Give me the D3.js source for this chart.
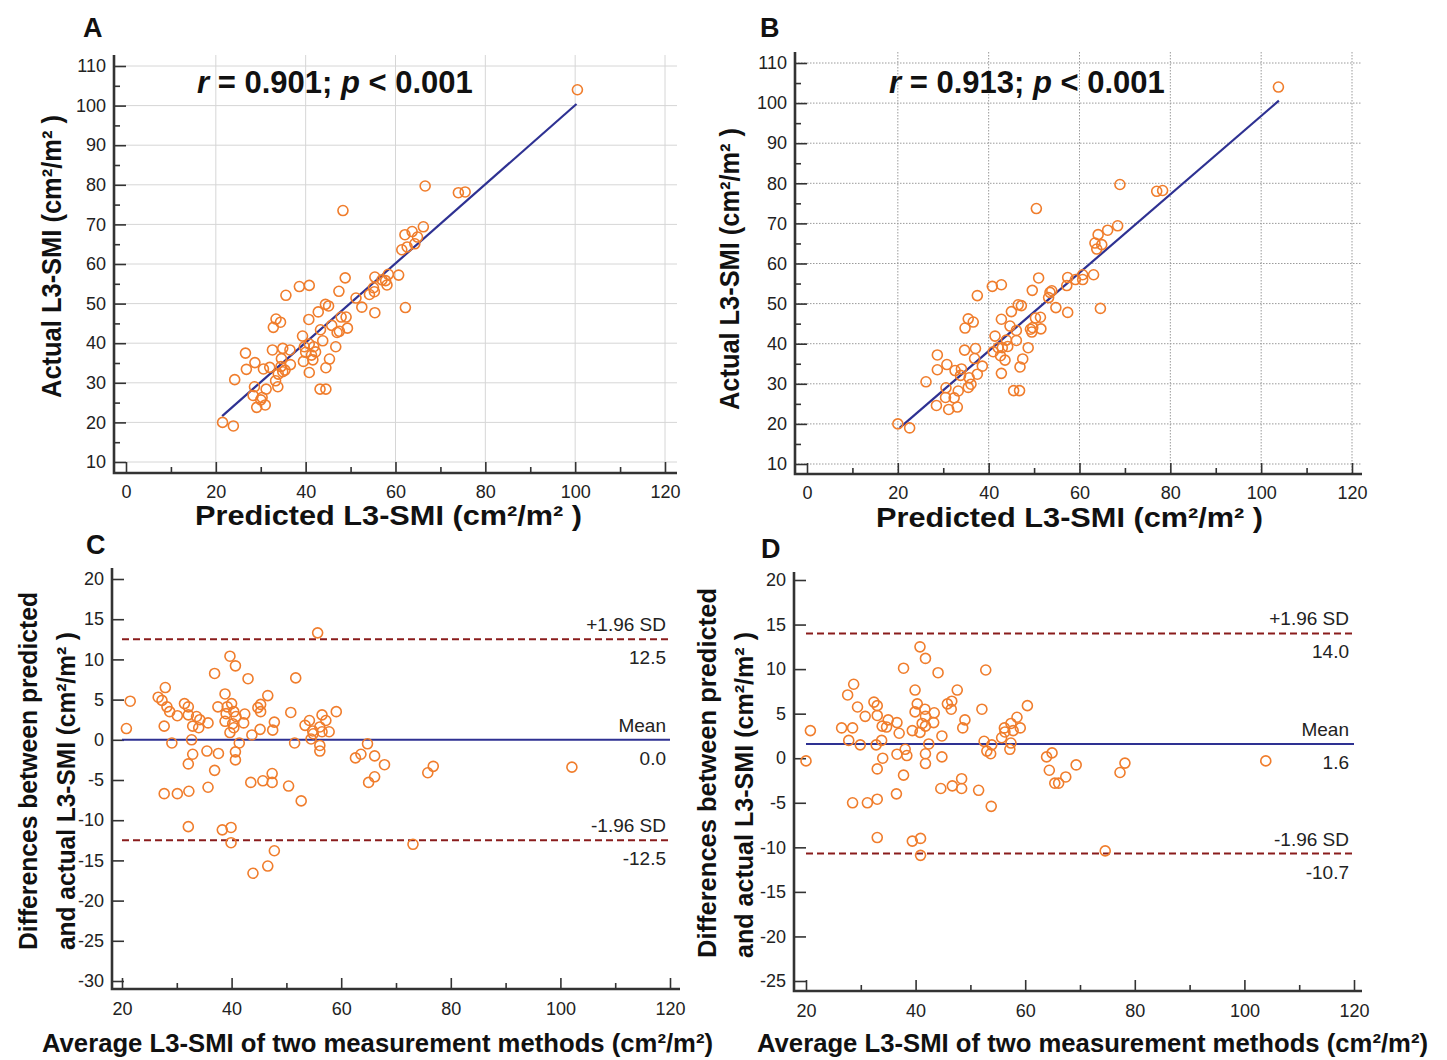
<!DOCTYPE html>
<html><head><meta charset="utf-8">
<script src="https://cdn.jsdelivr.net/npm/d3@7"></script>
<style>
body{margin:0;background:#fff}
svg{display:block}
text{font-family:"Liberation Sans",Arial,Helvetica,sans-serif}
</style>
</head><body>
<svg id="chart" width="1447" height="1060"></svg>
<script>
// ---------------- data ----------------
const xTicksScatter = [0,20,40,60,80,100,120];
const xMinorScatter = [10,30,50,70,90,110];
const yTicksScatter = [10,20,30,40,50,60,70,80,90,100,110];
const yMinorScatter = [15,25,35,45,55,65,75,85,95,105];
const xTicksBA = [20,40,60,80,100,120];
const xMinorBA = [30,50,70,90,110];
const yTicksC = [20,15,10,5,0,-5,-10,-15,-20,-25,-30];
const yTicksD = [20,15,10,5,0,-5,-10,-15,-20,-25];

const predA = [21.5,23.9,24.2,26.6,26.8,28.7,28.6,28.3,29.1,30.3,31.0,31.2,30.6,32.0,32.6,32.8,33.4,34.4,35.6,34.9,34.6,36.5,36.6,35.4,33.9,33.3,33.8,34.9,38.6,40.8,39.3,40.0,40.8,39.5,40.8,41.3,41.8,42.2,41.6,40.7,42.8,43.2,44.5,43.8,43.3,44.5,45.3,46.7,44.4,45.1,45.8,47.0,47.5,47.4,47.9,49.0,49.3,48.8,48.3,51.2,52.5,55.4,54.2,55.1,55.4,57.0,58.1,58.4,55.3,57.8,60.7,62.2,61.4,62.1,62.6,63.7,64.9,64.3,66.2,66.6,74.0,75.5,100.5,30.0,34.5,39.7];
const actualA = [20.0,19.1,30.8,37.5,33.4,35.1,29.0,26.8,23.8,26.3,24.4,28.4,33.5,33.9,38.3,44.0,46.1,45.3,52.1,38.7,36.1,38.3,34.6,33.2,32.2,30.5,29.0,32.8,54.3,54.6,41.8,37.7,39.8,35.4,32.6,37.0,39.1,37.8,35.8,46.0,47.9,28.4,28.4,40.6,43.4,33.8,36.0,39.1,49.8,49.4,44.5,42.7,43.0,53.1,46.6,46.6,43.8,56.5,73.5,51.4,49.1,47.7,52.3,54.0,56.7,56.0,54.7,57.4,53.0,55.8,57.2,49.0,63.6,67.4,64.3,68.2,66.8,65.1,69.4,79.7,78.0,78.2,104.0,25.7,34.1,39.1];
const fitAx = [21.4,100.3];
const fitAy = [21.6,100.4];

const predB = [20.0,22.6,26.2,28.7,28.7,30.8,30.6,30.5,28.5,31.2,32.4,33.1,33.3,32.6,34.0,34.7,34.8,35.5,36.6,37.5,37.1,36.9,38.6,37.5,35.7,35.5,36.1,33.8,40.8,42.8,41.4,42.1,41.0,42.6,43.0,44.2,43.6,42.8,43.9,42.8,45.0,44.7,46.1,45.5,46.8,47.5,46.9,48.7,46.5,47.2,46.1,49.2,49.7,49.5,50.3,51.4,51.5,49.6,51.0,50.5,53.2,53.5,53.9,54.8,57.4,57.4,57.2,59.1,60.7,60.7,63.1,64.6,63.4,63.8,64.1,64.9,66.2,68.4,68.9,77.0,78.3,103.8];
const actualB = [20.0,19.0,30.5,37.2,33.5,34.8,29.0,26.6,24.6,23.6,26.5,24.2,28.2,33.3,33.7,38.4,43.9,46.2,45.4,52.0,38.8,36.3,34.4,32.4,31.5,29.1,29.9,32.1,54.3,54.7,41.9,39.0,38.0,37.0,39.0,39.3,35.9,32.6,40.9,46.1,48.0,44.4,40.8,28.3,28.3,36.2,34.2,39.0,49.7,49.5,43.3,43.6,44.0,42.9,46.4,46.6,43.7,53.3,56.4,73.7,51.5,52.8,53.2,49.0,47.8,56.5,54.5,56.0,57.2,56.0,57.2,48.8,65.1,63.6,67.2,64.7,68.3,69.4,79.7,78.0,78.2,104.0];
const fitBx = [20.4,103.9];
const fitBy = [19.0,100.6];

const avgC = [20.8,21.5,26.6,27.3,27.9,27.7,28.2,28.7,29.1,27.7,30.1,30.1,31.4,32.1,32.1,32.9,33.6,34.2,34.0,32.7,32.9,32.1,32.2,32.1,35.7,35.5,36.9,35.7,36.9,37.5,38.8,39.2,39.0,38.8,40.0,40.4,40.8,40.2,39.7,40.4,37.6,39.7,40.7,40.7,40.7,41.4,42.2,42.4,43.0,43.7,45.2,45.3,45.3,44.8,46.6,47.8,47.5,38.3,39.9,39.9,43.5,45.7,47.4,47.4,47.8,46.6,43.9,50.4,50.8,51.7,51.5,52.7,53.4,54.2,54.8,54.5,54.9,56.1,56.5,57.2,56.5,57.8,56.1,56.1,59.1,55.7,64.8,63.6,62.6,66.1,67.9,66.1,65.0,75.8,76.8,73.1,102.1];
const diffC = [1.4,4.8,5.3,4.9,6.5,1.7,4.1,3.5,-0.4,-6.7,-6.7,3.0,4.5,4.1,3.1,1.7,2.9,2.5,1.5,0.0,-1.8,-3.0,-6.4,-10.8,2.1,-1.4,-3.8,-5.9,8.25,4.1,5.7,4.1,3.25,2.3,4.5,3.5,2.9,2.0,0.9,1.5,-1.7,10.4,9.2,-1.5,-2.5,-0.4,2.1,3.2,7.6,0.6,1.3,3.5,4.4,4.0,5.5,2.2,1.2,-11.2,-10.9,-12.8,-5.3,-5.1,-4.2,-5.3,-13.8,-15.7,-16.6,-5.75,3.4,7.7,-0.4,-7.6,1.8,2.4,1.1,0.1,0.75,1.6,3.1,2.4,1.0,1.0,-0.7,-1.4,3.5,13.3,-0.5,-1.8,-2.25,-2.0,-3.1,-4.6,-5.3,-4.1,-3.3,-13.0,-3.4];
const limitsC = [12.5, 0.0, -12.5];

const avgD = [20.0,20.8,26.5,28.5,27.6,28.7,29.4,27.8,29.9,30.8,28.5,31.2,32.4,33.0,33.0,33.9,35.0,34.7,33.8,32.8,34.0,33.0,33.0,33.0,36.6,37.0,36.6,37.8,39.9,40.3,39.9,39.4,40.8,41.2,41.7,41.8,41.8,40.8,41.8,43.4,43.3,42.4,41.8,41.8,38.1,38.4,37.8,36.5,44.1,44.8,44.8,44.6,39.4,40.9,40.9,45.8,46.6,46.5,47.6,49.0,48.6,46.7,48.4,48.4,51.5,52.8,52.1,52.5,53.0,53.7,53.9,53.8,55.7,56.2,56.3,57.4,57.8,58.5,59.1,57.4,57.2,60.4,63.9,64.9,64.4,65.4,66.1,67.4,69.3,77.3,78.2,74.6,103.9];
const diffD = [-0.3,3.1,3.4,3.4,7.1,8.3,5.75,2.0,1.5,4.7,-5.0,-5.0,6.3,5.9,4.8,3.6,4.3,3.5,2.0,1.5,0.0,-1.2,-4.6,-8.9,4.0,2.8,0.45,10.1,7.65,6.1,5.2,3.1,2.9,3.9,5.5,4.7,3.6,12.5,11.2,5.1,4.0,1.6,0.5,-0.6,1.0,0.3,-1.9,-4.0,9.6,2.5,0.15,-3.4,-9.3,-9.0,-10.9,6.1,6.4,5.5,7.65,4.3,3.4,-3.1,-2.3,-3.4,-3.6,9.9,5.5,1.9,0.8,0.5,1.5,-5.4,2.3,3.4,2.95,3.9,3.1,4.6,3.4,1.7,1.0,5.9,0.15,0.6,-1.35,-2.8,-2.8,-2.1,-0.75,-1.6,-0.55,-10.4,-0.3];
const limitsD = [14.0, 1.6, -10.7];
const limitNames = ["+1.96 SD", "Mean", "-1.96 SD"];
const limitValueLabels = { C: ["12.5","0.0","-12.5"], D: ["14.0","1.6","-10.7"] };
const rText = { A: "0.901", B: "0.913" };

// ---------------- styles ----------------
const ORANGE = "#f07d2c", BLUE = "#2e3192", DARKRED = "#8a1c1c", AXIS = "#333", LABEL = "#222";
const svg = d3.select("#chart");
const fmt = d => String(d);

function axisLines(g, L) {
  g.append("path").attr("d", `M${L.axisX},${L.top}V${L.axisY}H${L.right}`)
    .attr("fill","none").attr("stroke",AXIS).attr("stroke-width",2.6);
}
function styleAxis(sel) {
  sel.select(".domain").remove();
  sel.selectAll(".tick line").attr("stroke",AXIS).attr("stroke-width",1.6);
  sel.selectAll(".tick text").attr("fill",LABEL).style("font-size","18px")
     .style("font-family",'"Liberation Sans",Arial,sans-serif');
}
function drawAxes(g, x, y, L, yMajor, yMinor, xMajor, xMinor, xPad) {
  const ya = g.append("g").attr("transform",`translate(${L.axisX},0)`)
    .call(d3.axisLeft(y).tickValues(yMajor).tickSize(-12).tickPadding(8).tickFormat(fmt));
  styleAxis(ya);
  if (yMinor) {
    const ym = g.append("g").attr("transform",`translate(${L.axisX},0)`)
      .call(d3.axisLeft(y).tickValues(yMinor).tickSize(-6).tickFormat(""));
    styleAxis(ym);
  }
  const xa = g.append("g").attr("transform",`translate(0,${L.axisY})`)
    .call(d3.axisBottom(x).tickValues(xMajor).tickSize(-11).tickPadding(xPad).tickFormat(fmt));
  styleAxis(xa);
  const xm = g.append("g").attr("transform",`translate(0,${L.axisY})`)
    .call(d3.axisBottom(x).tickValues(xMinor).tickSize(-6).tickFormat(""));
  styleAxis(xm);
}

function title(attrs, str, fs, len) {
  const t = svg.append("text").text(str).style("font-size",fs+"px").style("font-weight","bold").attr("fill","#111");
  Object.entries(attrs).forEach(([k,v]) => t.attr(k,v));
  if (len) t.attr("textLength",len).attr("lengthAdjust","spacingAndGlyphs");
  return t;
}

function panelLetter(txt, x, y) {
  svg.append("text").attr("x",x).attr("y",y).text(txt)
    .style("font-size","27px").style("font-weight","bold").attr("fill","#111");
}

// ---------------- scatter panels ----------------
function scatter(L, px, py, fx, fy, rt, grid) {
  const g = svg.append("g");
  const x = d3.scaleLinear().domain([0,120]).range(L.xr);
  const y = d3.scaleLinear().domain([10,110]).range(L.yr);
  const gg = g.append("g").attr("stroke", grid.color).attr("stroke-width",1)
    .attr("stroke-dasharray", grid.dash);
  gg.selectAll(".gx").data(xTicksScatter.filter(d=>d>0)).join("line")
    .attr("x1",d=>x(d)).attr("x2",d=>x(d)).attr("y1",L.top).attr("y2",L.axisY);
  gg.selectAll(".gy").data(yTicksScatter).join("line")
    .attr("x1",L.axisX).attr("x2",L.right).attr("y1",d=>y(d)).attr("y2",d=>y(d));
  axisLines(g, L);
  drawAxes(g, x, y, L, yTicksScatter, yMinorScatter, xTicksScatter, xMinorScatter, 12);
  g.append("line").attr("x1",x(fx[0])).attr("y1",y(fy[0])).attr("x2",x(fx[1])).attr("y2",y(fy[1]))
    .attr("stroke",BLUE).attr("stroke-width",2.2);
  g.selectAll("circle").data(px.map((v,i)=>[v,py[i]])).join("circle")
    .attr("cx",d=>x(d[0])).attr("cy",d=>y(d[1])).attr("r",5)
    .attr("fill","none").attr("stroke",ORANGE).attr("stroke-width",1.6);
  const st = g.append("text").attr("x",L.statX).attr("y",L.statY)
    .style("font-size","31px").style("font-weight","bold").attr("fill","#111");
  st.append("tspan").text("r").style("font-style","italic");
  st.append("tspan").text(" = " + rt + "; ");
  st.append("tspan").text("p").style("font-style","italic");
  st.append("tspan").text(" < 0.001");
}

const LA = {xr:[126,665], yr:[462,66], axisX:114, axisY:473, top:55, right:677, statX:197, statY:93};
const LB = {xr:[807,1352], yr:[464,63], axisX:795, axisY:474, top:52, right:1362, statX:889, statY:93};
scatter(LA, predA, actualA, fitAx, fitAy, rText.A, {color:"#d6d6d6", dash:null});
scatter(LB, predB, actualB, fitBx, fitBy, rText.B, {color:"#9a9a9a", dash:"1.5,1.5"});

panelLetter("A", 83, 37);
panelLetter("B", 760, 37);
title({x:195, y:525}, "Predicted L3-SMI (cm²/m² )", 28, 387);
title({x:876, y:527}, "Predicted L3-SMI (cm²/m² )", 28, 387);
title({transform:"translate(61,398) rotate(-90)"}, "Actual L3-SMI (cm²/m² )", 27, 283);
title({transform:"translate(739,410) rotate(-90)"}, "Actual L3-SMI (cm²/m² )", 27, 282);

// ---------------- Bland-Altman panels ----------------
function bland(L, ax, dy, yDomain, yTicks, limits, vlabels) {
  const g = svg.append("g");
  const x = d3.scaleLinear().domain([20,120]).range(L.xr);
  const y = d3.scaleLinear().domain(yDomain).range(L.yr);
  axisLines(g, L);
  drawAxes(g, x, y, L, yTicks, null, xTicksBA, xMinorBA, 13);
  limits.forEach((v,i) => {
    g.append("line").attr("x1",x(20)).attr("x2",x(120)).attr("y1",y(v)).attr("y2",y(v))
      .attr("stroke", i===1 ? BLUE : DARKRED).attr("stroke-width", 2)
      .attr("stroke-dasharray", i===1 ? null : "7,4");
    g.append("text").attr("x",L.labX).attr("y",y(v)-8).attr("text-anchor","end")
      .text(limitNames[i]).style("font-size","19px").attr("fill",LABEL);
    g.append("text").attr("x",L.labX).attr("y",y(v)+25).attr("text-anchor","end")
      .text(vlabels[i]).style("font-size","19px").attr("fill",LABEL);
  });
  g.selectAll("circle").data(ax.map((v,i)=>[v,dy[i]])).join("circle")
    .attr("cx",d=>x(d[0])).attr("cy",d=>y(d[1])).attr("r",5)
    .attr("fill","none").attr("stroke",ORANGE).attr("stroke-width",1.6);
}

const LC = {xr:[122,670], yr:[579,981], axisX:112, axisY:989, top:568, right:680, labX:666};
const LD = {xr:[806,1354], yr:[580,981], axisX:794, axisY:991, top:572, right:1362, labX:1349};
bland(LC, avgC, diffC, [20,-30], yTicksC, limitsC, limitValueLabels.C);
bland(LD, avgD, diffD, [20,-25], yTicksD, limitsD, limitValueLabels.D);

panelLetter("C", 86, 554);
panelLetter("D", 761, 558);

function diffTitle(x1, x2, y0, len1, len2) {
  title({transform:`translate(${x1},${y0}) rotate(-90)`}, "Differences between predicted", 26, len1);
  title({transform:`translate(${x2},${y0}) rotate(-90)`}, "and actual L3-SMI (cm²/m² )", 26, len2);
}
diffTitle(37, 75, 950, 358, 318);
diffTitle(716, 753, 958, 370, 326);

title({x:42, y:1052}, "Average L3-SMI of two measurement methods (cm²/m²)", 26, 671);
title({x:757, y:1052}, "Average L3-SMI of two measurement methods (cm²/m²)", 26, 671);
</script>
</body></html>
